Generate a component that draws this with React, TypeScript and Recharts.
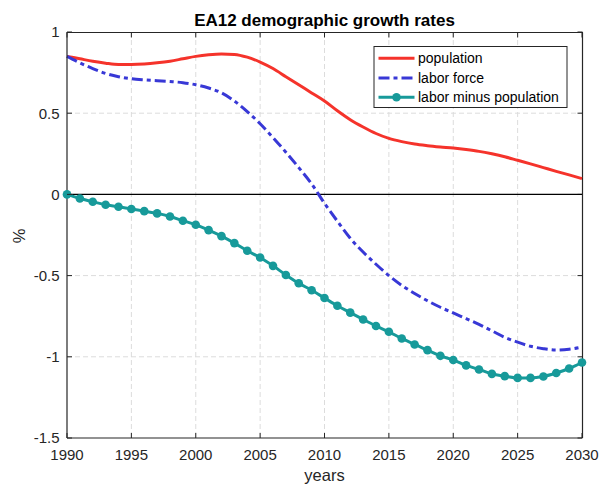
import React from "react";
import * as R from "recharts";
import {
  LineChart,
  Line,
  XAxis,
  YAxis,
  CartesianGrid,
  ReferenceLine,
  Customized,
} from "recharts";

const years = [
  1990, 1991, 1992, 1993, 1994, 1995, 1996, 1997, 1998, 1999, 2000, 2001, 2002, 2003,
  2004, 2005, 2006, 2007, 2008, 2009, 2010, 2011, 2012, 2013, 2014, 2015, 2016, 2017,
  2018, 2019, 2020, 2021, 2022, 2023, 2024, 2025, 2026, 2027, 2028, 2029, 2030,
];

const population = [
  0.85, 0.835, 0.82, 0.808, 0.8, 0.8, 0.803, 0.81, 0.82, 0.835, 0.85, 0.86, 0.865, 0.862,
  0.845, 0.815, 0.775, 0.725, 0.675, 0.625, 0.575, 0.515, 0.46, 0.415, 0.375, 0.345, 0.325,
  0.31, 0.3, 0.292, 0.285, 0.276, 0.265, 0.25, 0.232, 0.21, 0.188, 0.165, 0.142, 0.12, 0.097,
];

const laborForce = [
  0.85, 0.81, 0.775, 0.745, 0.725, 0.712, 0.705, 0.7, 0.695, 0.688, 0.675, 0.655, 0.625,
  0.575, 0.51, 0.435, 0.35, 0.26, 0.165, 0.065, -0.055, -0.165, -0.27, -0.355, -0.43, -0.5,
  -0.56, -0.61, -0.655, -0.695, -0.73, -0.765, -0.8, -0.84, -0.88, -0.91, -0.935, -0.95,
  -0.958, -0.953, -0.94,
];

const laborMinusPopulation = [
  0, -0.025, -0.045, -0.064, -0.076, -0.09, -0.103, -0.117, -0.136, -0.162, -0.187, -0.22,
  -0.257, -0.3, -0.347, -0.389, -0.44, -0.496, -0.547, -0.59, -0.638, -0.686, -0.728, -0.77,
  -0.81, -0.846, -0.887, -0.924, -0.959, -0.994, -1.02, -1.053, -1.078, -1.105, -1.119,
  -1.13, -1.13, -1.121, -1.1, -1.072, -1.035,
];

const xTicks = [1990, 1995, 2000, 2005, 2010, 2015, 2020, 2025, 2030];
const yTicks = [-1.5, -1, -0.5, 0, 0.5, 1];
const xGrid = [1995, 2000, 2005, 2010, 2015, 2020, 2025];
const yGrid = [-1, -0.5, 0.5];
const X_DOMAIN = [1990, 2030];
const Y_DOMAIN = [-1.5, 1];

const title = "EA12 demographic growth rates";
const xLabel = "years";
const yLabel = "%";

const RED = "#f5332b";
const BLUE = "#3838d6";
const TEAL = "#179a9a";
const AXIS = "#262626";
const FONT = "'Liberation Sans', Arial, Helvetica, sans-serif";

const CHART_W = 600;
const CHART_H = 484;
const MARGIN = { top: 32, right: 18, left: 0, bottom: 0 };
const Y_AXIS_W = 67;
const X_AXIS_H = 46;

const data = years.map((y, i) => ({
  year: y,
  population: population[i],
  labor: laborForce[i],
  diff: laborMinusPopulation[i],
}));

const legendItems = [
  { name: "population", color: RED, dash: undefined as string | undefined, marker: false },
  { name: "labor force", color: BLUE, dash: "11 4 4 4", marker: false },
  { name: "labor minus population", color: TEAL, dash: undefined, marker: true },
];

const BottomTick = (props: any) => {
  const { x, y, payload } = props;
  return (
    <g>
      <line x1={x} x2={x} y1={y} y2={y - 5} stroke={AXIS} strokeWidth={1} />
      <text x={x} y={y + 21.5} textAnchor="middle" fill={AXIS} fontSize={15} fontFamily={FONT}>
        {payload.value}
      </text>
    </g>
  );
};

const LeftTick = (props: any) => {
  const { x, y, payload } = props;
  return (
    <g>
      <line x1={x} x2={x + 5} y1={y} y2={y} stroke={AXIS} strokeWidth={1} />
      <text x={x - 7.5} y={y} dy="0.36em" textAnchor="end" fill={AXIS} fontSize={15} fontFamily={FONT}>
        {String(payload.value)}
      </text>
    </g>
  );
};

const XLabelContent = (props: any) => {
  const vb = props.viewBox || {};
  return (
    <text
      x={vb.x + vb.width / 2}
      y={vb.y + 43.3}
      textAnchor="middle"
      fill={AXIS}
      fontSize={16.5}
      fontFamily={FONT}
    >
      {xLabel}
    </text>
  );
};

const YLabelContent = (props: any) => {
  const vb = props.viewBox || {};
  const cx = vb.x + 19.5;
  const cy = vb.y + vb.height / 2 + 1;
  return (
    <text
      x={cx}
      y={cy}
      dy="0.36em"
      transform={`rotate(-90, ${cx}, ${cy})`}
      textAnchor="middle"
      fill={AXIS}
      fontSize={16.5}
      fontFamily={FONT}
    >
      {yLabel}
    </text>
  );
};

const usePlotAreaHook: any = (R as any).usePlotArea || null;
const FALLBACK_PLOT = {
  x: MARGIN.left + Y_AXIS_W,
  y: MARGIN.top,
  width: CHART_W - MARGIN.left - MARGIN.right - Y_AXIS_W,
  height: CHART_H - MARGIN.top - MARGIN.bottom - X_AXIS_H,
};

// top and right frame lines with inward ticks (MATLAB-style box), pixel-snapped
const Frame = () => {
  const pa = usePlotAreaHook ? usePlotAreaHook() : null;
  const p = pa && pa.width ? pa : FALLBACK_PLOT;
  const sx = (v: number) => p.x + ((v - X_DOMAIN[0]) / (X_DOMAIN[1] - X_DOMAIN[0])) * p.width;
  const sy = (v: number) => p.y + ((Y_DOMAIN[1] - v) / (Y_DOMAIN[1] - Y_DOMAIN[0])) * p.height;
  const right = Math.floor(p.x + p.width) + 0.5;
  const top = Math.floor(p.y) + 0.5;
  const bottom = p.y + p.height;
  return (
    <g>
      <line x1={p.x} x2={right + 0.5} y1={top} y2={top} stroke={AXIS} strokeWidth={1.2} />
      <line x1={right} x2={right} y1={top} y2={bottom} stroke={AXIS} strokeWidth={1.2} />
      {xTicks.map((t) => (
        <line key={`tt${t}`} x1={sx(t)} x2={sx(t)} y1={top} y2={top + 5} stroke={AXIS} strokeWidth={1} />
      ))}
      {yTicks.map((t) => (
        <line key={`rt${t}`} x1={right} x2={right - 5} y1={sy(t)} y2={sy(t)} stroke={AXIS} strokeWidth={1} />
      ))}
    </g>
  );
};

const Overlay = () => {
  const bx = 374;
  const by = 46.5;
  const rows = [58.3, 78.1, 97.3];
  return (
    <g>
      <text
        x={324.5}
        y={25.6}
        textAnchor="middle"
        fontWeight="bold"
        fontSize={17}
        fill="#000"
        fontFamily={FONT}
      >
        {title}
      </text>
      <rect x={bx} y={by} width={193} height={61} fill="#fff" stroke={AXIS} strokeWidth={1} />
      {legendItems.map((it, i) => (
        <g key={it.name}>
          <line
            x1={bx + 4.5}
            x2={bx + 40.5}
            y1={rows[i]}
            y2={rows[i]}
            stroke={it.color}
            strokeWidth={3}
            strokeDasharray={it.dash}
          />
          {it.marker && <circle cx={bx + 22.5} cy={rows[i]} r={4.3} fill={it.color} />}
          <text
            x={bx + 44}
            y={rows[i]}
            dy="0.36em"
            fontSize={14}
            fill="#000"
            fontFamily={FONT}
          >
            {it.name}
          </text>
        </g>
      ))}
    </g>
  );
};

export default function App() {
  return (
    <div style={{ width: CHART_W, height: CHART_H, fontFamily: FONT }}>
      <style>{"html,body{margin:0;padding:0;overflow:hidden}"}</style>
      <LineChart width={CHART_W} height={CHART_H} data={data} margin={MARGIN}>
        <CartesianGrid
          stroke="#dcdcdc"
          strokeDasharray="5 3"
          strokeWidth={1}
          horizontalValues={yGrid}
          verticalValues={xGrid}
        />
        <XAxis
          dataKey="year"
          type="number"
          domain={X_DOMAIN}
          ticks={xTicks}
          interval={0}
          height={X_AXIS_H}
          tickSize={0}
          tickMargin={0}
          tickLine={false}
          axisLine={{ stroke: AXIS, strokeWidth: 1.2 }}
          tick={<BottomTick />}
          label={{ content: <XLabelContent /> } as any}
        />
        <YAxis
          type="number"
          domain={Y_DOMAIN}
          ticks={yTicks}
          interval={0}
          width={Y_AXIS_W}
          tickSize={0}
          tickMargin={0}
          tickLine={false}
          axisLine={{ stroke: AXIS, strokeWidth: 1.2 }}
          tick={<LeftTick />}
          label={{ content: <YLabelContent /> } as any}
        />
        <Customized component={Frame} />
        <ReferenceLine y={0} stroke="#000" strokeWidth={1.2} />
        <Line
          dataKey="population"
          type="monotone"
          stroke={RED}
          strokeWidth={3}
          dot={false}
          isAnimationActive={false}
        />
        <Line
          dataKey="labor"
          type="monotone"
          stroke={BLUE}
          strokeWidth={3}
          strokeDasharray="11 4 4 4"
          dot={false}
          isAnimationActive={false}
        />
        <Line
          dataKey="diff"
          type="monotone"
          stroke={TEAL}
          strokeWidth={3}
          dot={{ r: 4.3, fill: TEAL, stroke: TEAL, strokeWidth: 0 }}
          isAnimationActive={false}
        />
        <Customized component={Overlay} />
      </LineChart>
    </div>
  );
}
